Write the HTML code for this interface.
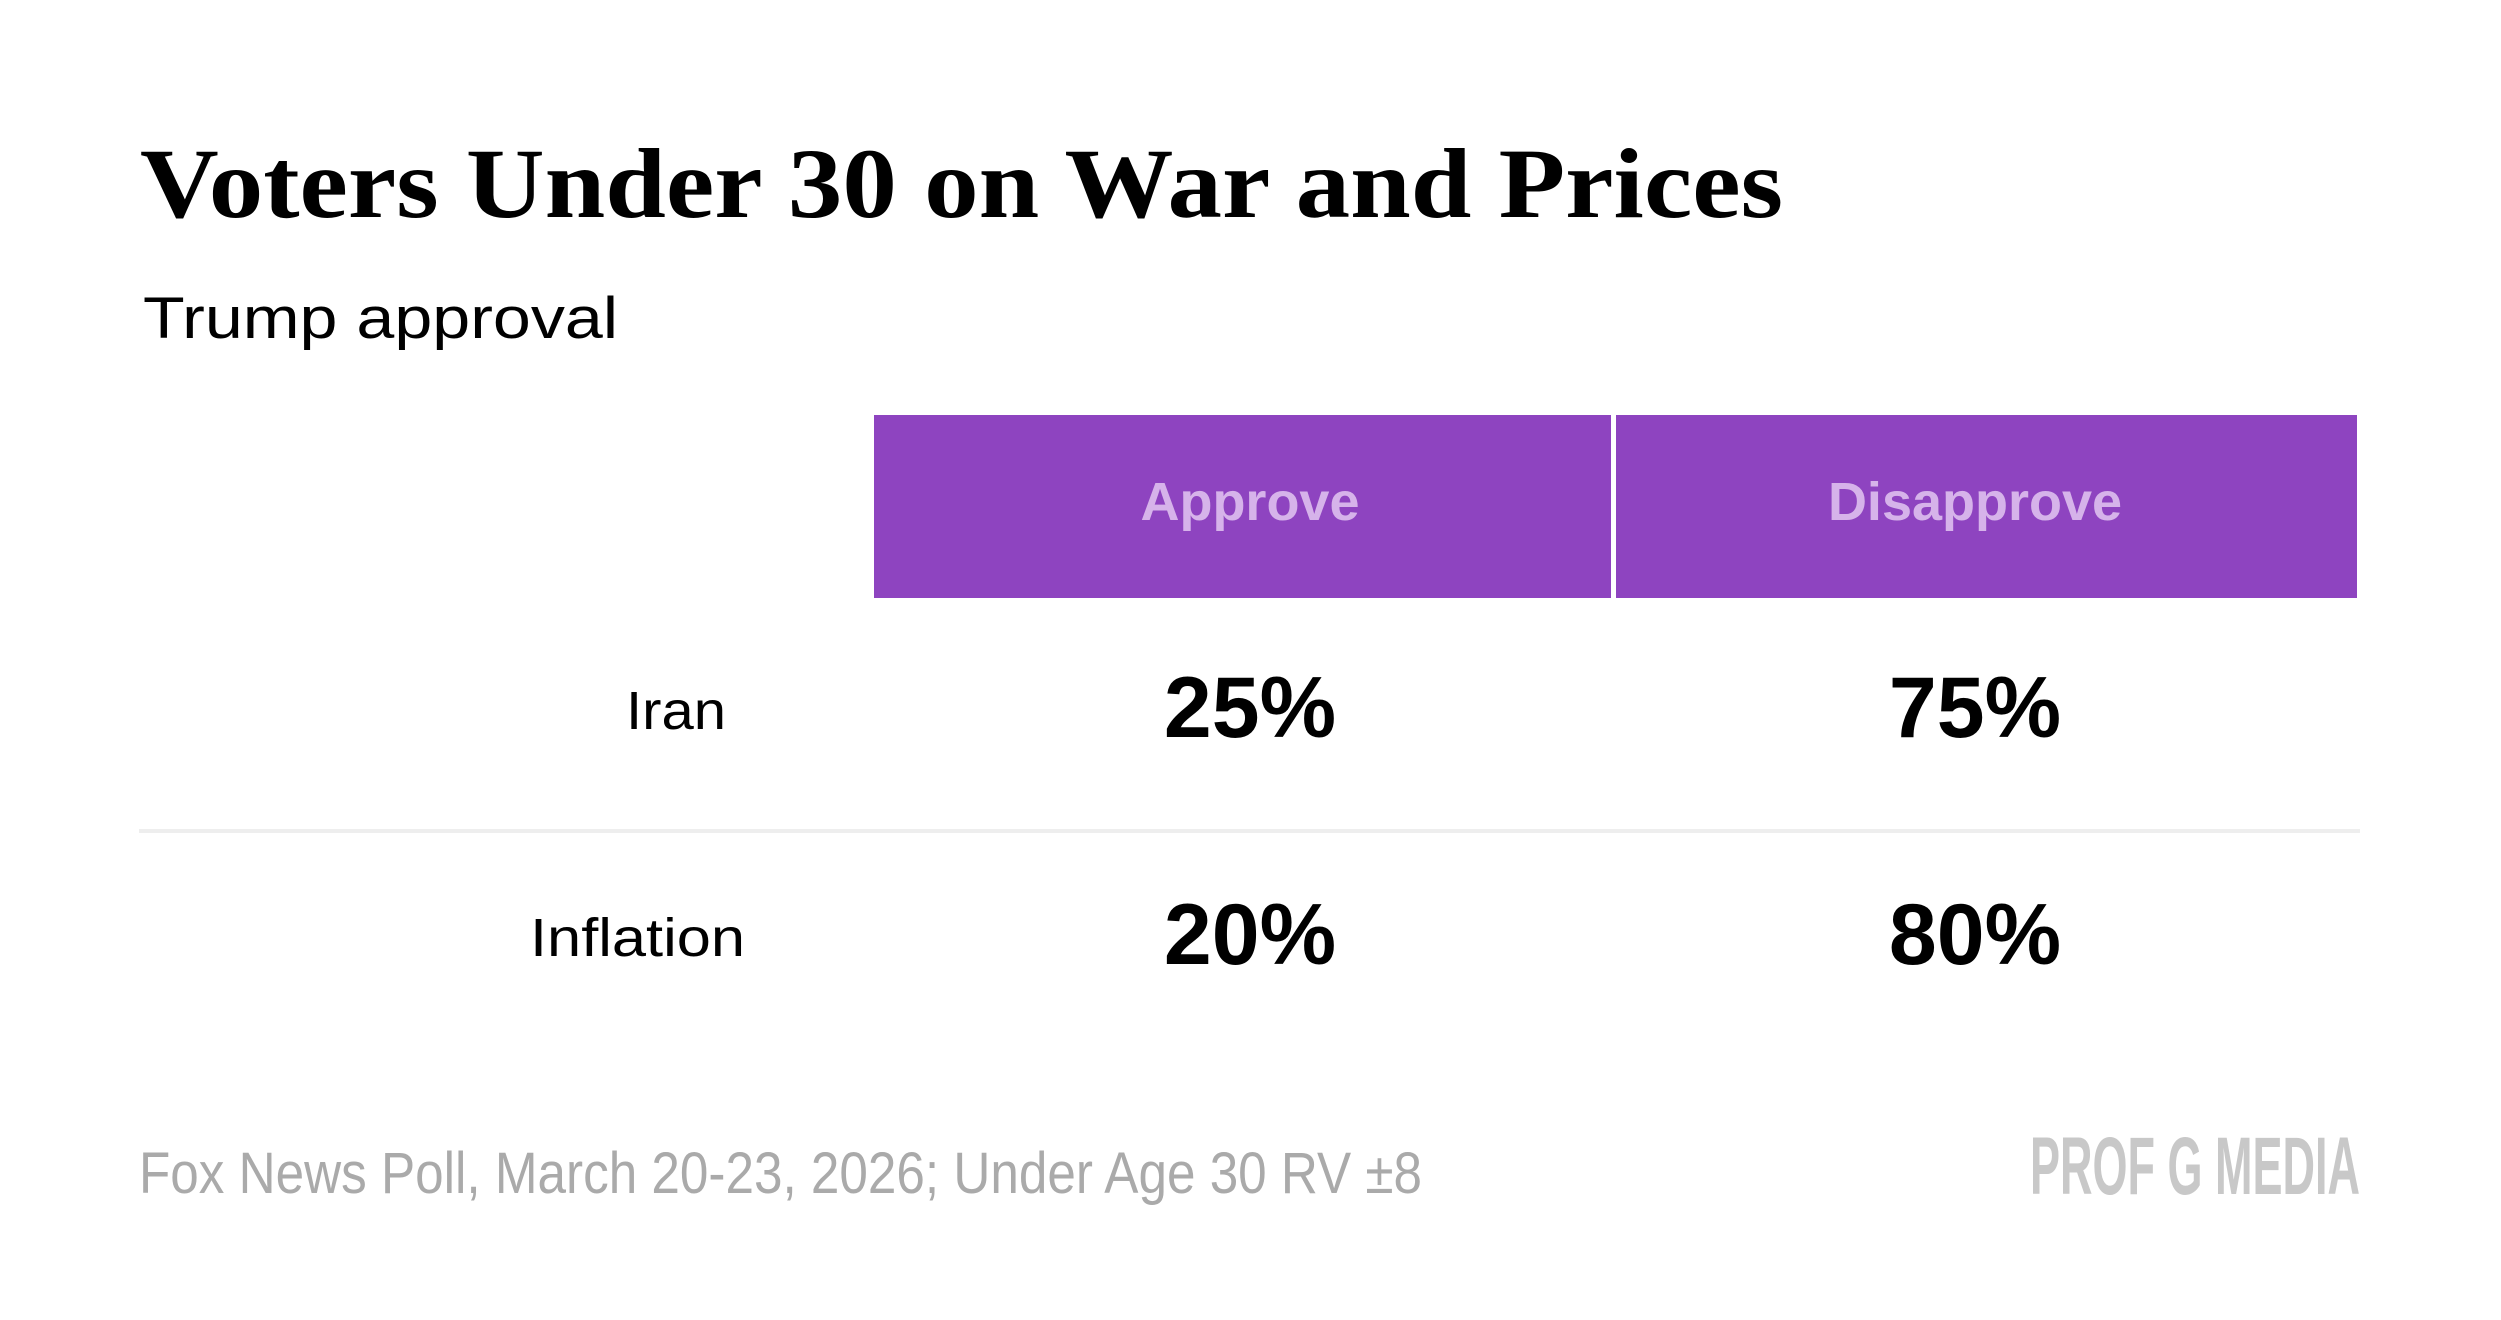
<!DOCTYPE html>
<html><head><meta charset="utf-8"><style>
html,body{margin:0;padding:0;background:#fff;}
svg{display:block;}
</style></head><body>
<svg id="chart" width="2501" height="1320" viewBox="0 0 2501 1320" xmlns="http://www.w3.org/2000/svg">
<rect width="2501" height="1320" fill="#fff"/>
<text x="140" y="217" font-family="Liberation Serif, serif" font-weight="bold" font-size="100" textLength="1643" lengthAdjust="spacingAndGlyphs" fill="#000">Voters Under 30 on War and Prices</text>
<text x="143" y="338" font-family="Liberation Sans, sans-serif" font-size="58" textLength="475" lengthAdjust="spacingAndGlyphs" fill="#000">Trump approval</text>
<g id="table"></g>
<text x="139" y="1193" font-family="Liberation Sans, sans-serif" font-size="58" textLength="1283" lengthAdjust="spacingAndGlyphs" fill="#aaaaaa">Fox News Poll, March 20-23, 2026; Under Age 30 RV ±8</text>
<text x="2030" y="1194" font-family="Liberation Sans, sans-serif" font-weight="bold" font-size="82" textLength="330" lengthAdjust="spacingAndGlyphs" fill="#c8c8c8">PROF G MEDIA</text>
</svg>
<script>
const columns = ["Approve", "Disapprove"];
const rows = ["Iran", "Inflation"];
const approve = [25, 20];
const disapprove = [75, 80];

const NS = "http://www.w3.org/2000/svg";
const g = document.getElementById("table");
function mk(tag, attrs, txt) {
  const e = document.createElementNS(NS, tag);
  for (const k in attrs) e.setAttribute(k, attrs[k]);
  if (txt !== undefined) e.textContent = txt;
  g.appendChild(e);
  return e;
}
const colLeft = [874, 1616];
const colRight = [1611, 2357];
const colCenters = [1250, 1975];
const rowBase = i => 729 + i * 227;
const labelRight = [726, 745];
const labelWidth = [100, 215];

columns.forEach((c, i) => {
  const r = mk("rect", {x: colLeft[i], y: 415, width: colRight[i] - colLeft[i], height: 183, fill: "#8e44c0"});
  
  
  const t = mk("text", {x: colCenters[i], y: 520, "text-anchor": "middle", "font-family": "Liberation Sans, sans-serif", "font-weight": "bold", "font-size": "54", fill: "#d6b3ea"}, c);
  
  
});
const sep = mk("rect", {x: 139, y: 829, width: 2221, height: 4, fill: "#eeeeee"});



const series = [approve, disapprove];
rows.forEach((r, i) => {
  const l = mk("text", {x: labelRight[i], y: rowBase(i), "text-anchor": "end", "font-family": "Liberation Sans, sans-serif", "font-size": "54", textLength: labelWidth[i], lengthAdjust: "spacingAndGlyphs", fill: "#000"}, r);
  
  
  series.forEach((s, j) => {
    const v = mk("text", {x: colCenters[j], y: rowBase(i) + 8, "text-anchor": "middle", "font-family": "Liberation Sans, sans-serif", "font-weight": "bold", "font-size": "86", fill: "#000"}, s[i] + "%");
    
    
  });
});
</script>
</body></html>
